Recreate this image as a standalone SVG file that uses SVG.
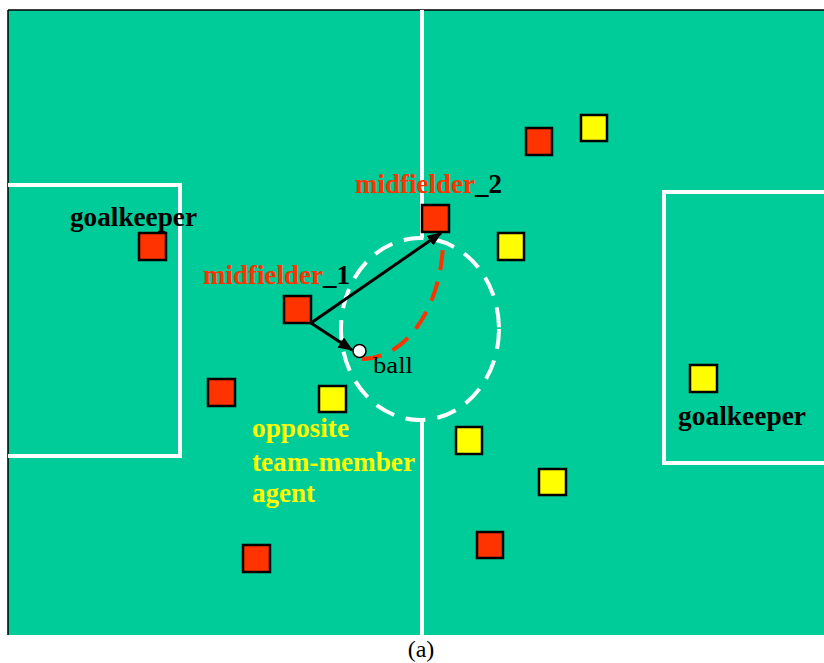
<svg xmlns="http://www.w3.org/2000/svg" width="824" height="663" viewBox="0 0 824 663">
<defs>
<style>
.red{fill:#FF3300;stroke:#000;stroke-width:2.5}
.yel{fill:#FFFF00;stroke:#000;stroke-width:2.5}
.line{fill:none;stroke:#fff;stroke-width:4}
.lbl{font-family:"Liberation Serif","Times New Roman",serif;font-weight:bold;font-size:27px}
.conn{stroke:#000;stroke-width:3;fill:none}
</style>
<marker id="ah" viewBox="0 0 10 8" refX="9" refY="4" markerWidth="5" markerHeight="4" orient="auto" markerUnits="strokeWidth">
<path d="M0,0 L10,4 L0,8 z" fill="#000"/>
</marker>
</defs>
<rect x="0" y="0" width="824" height="663" fill="#fff"/>
<g id="field">
<rect x="8" y="10" width="816" height="625" fill="#00CC99"/>
<path d="M8,10 H824 M8,10 V635" stroke="#000" stroke-width="1.5" fill="none"/>
<path class="line" d="M422,10 V238 M422,420 V635"/>
<path class="line" d="M8,185 H180 V456 H8"/>
<path class="line" d="M824,192 H664 V463 H824"/>
<ellipse class="line" cx="420" cy="329" rx="79" ry="91" stroke-dasharray="20 12"/>
</g>
<g id="connectors">
<path class="conn" d="M311,323 L441,233" marker-end="url(#ah)"/>
<path class="conn" d="M311,323 L352,350" marker-end="url(#ah)"/>
<path d="M362,359 A81 120 0 0 0 443 240" fill="none" stroke="#FF3300" stroke-width="4" stroke-dasharray="20 12"/>
</g>
<g id="ball">
<circle cx="359.5" cy="351" r="6.5" fill="#fff" stroke="#000" stroke-width="1.5"/>
<text x="373" y="373" font-family="Liberation Serif, Times New Roman, serif" font-size="24" textLength="40" lengthAdjust="spacingAndGlyphs">ball</text>
</g>
<g id="goalkeeper_left">
<rect class="red" x="139" y="233" width="27" height="27"/>
<text class="lbl" x="70" y="226" fill="#000" textLength="127" lengthAdjust="spacingAndGlyphs">goalkeeper</text>
</g>
<g id="midfielder_1">
<rect class="red" x="284" y="296" width="27" height="27"/>
<text class="lbl" x="203" y="284" textLength="147" lengthAdjust="spacingAndGlyphs"><tspan fill="#FF3300">midfielder</tspan><tspan fill="#000">_1</tspan></text>
</g>
<g id="midfielder_2">
<rect class="red" x="422" y="205" width="27" height="27"/>
<text class="lbl" x="355" y="193" textLength="147" lengthAdjust="spacingAndGlyphs"><tspan fill="#FF3300">midfielder</tspan><tspan fill="#000">_2</tspan></text>
</g>
<g id="red_3"><rect class="red" x="208" y="379" width="27" height="27"/></g>
<g id="red_4"><rect class="red" x="526" y="128" width="26" height="27"/></g>
<g id="red_5"><rect class="red" x="243" y="545" width="27" height="27"/></g>
<g id="red_6"><rect class="red" x="477" y="532" width="26" height="26"/></g>
<g id="yellow_1"><rect class="yel" x="581" y="115" width="26" height="26"/></g>
<g id="yellow_2"><rect class="yel" x="498" y="233" width="26" height="27"/></g>
<g id="yellow_3">
<rect class="yel" x="319" y="386" width="27" height="26"/>
<text class="lbl" fill="#FFFF00" x="252" y="437" textLength="97" lengthAdjust="spacingAndGlyphs">opposite</text>
<text class="lbl" fill="#FFFF00" x="252" y="471" textLength="163" lengthAdjust="spacingAndGlyphs">team-member</text>
<text class="lbl" fill="#FFFF00" x="252" y="502" textLength="63" lengthAdjust="spacingAndGlyphs">agent</text>
</g>
<g id="yellow_4"><rect class="yel" x="456" y="427" width="26" height="27"/></g>
<g id="yellow_5"><rect class="yel" x="539" y="469" width="27" height="26"/></g>
<g id="goalkeeper_right">
<rect class="yel" x="690" y="365" width="27" height="27"/>
<text class="lbl" x="678" y="425" fill="#000" textLength="128" lengthAdjust="spacingAndGlyphs">goalkeeper</text>
</g>
<text x="421" y="657" text-anchor="middle" font-family="Liberation Serif, Times New Roman, serif" font-size="24">(a)</text>
</svg>
